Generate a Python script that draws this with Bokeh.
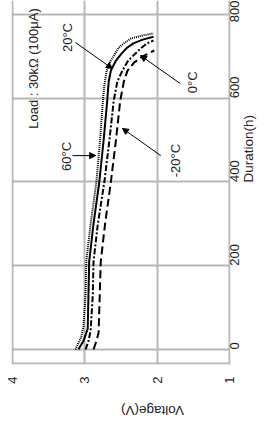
import math
from bokeh.plotting import figure
from bokeh.models import Range1d, FixedTicker, Span, Label, Arrow, NormalHead
from bokeh.embed import file_html
from bokeh.resources import INLINE

# ---- data ----
voltage_ticks = [1, 2, 3, 4]
duration_ticks = [0, 200, 400, 600, 800]

h_60 = [0, 15, 30, 55, 130, 210, 300, 400, 500, 595, 630, 665, 690, 707, 721, 731, 743, 750, 755]
v_60 = [3.13, 3.09, 3.05, 3.02, 2.99, 2.98, 2.92, 2.84, 2.79, 2.75, 2.73, 2.70, 2.64, 2.58, 2.53, 2.46, 2.36, 2.20, 2.05]

h_20 = [0, 20, 50, 130, 210, 300, 400, 500, 595, 640, 666, 690, 707, 720, 731, 740, 747]
v_20 = [3.09, 3.02, 2.96, 2.95, 2.94, 2.88, 2.80, 2.74, 2.69, 2.67, 2.64, 2.57, 2.49, 2.42, 2.33, 2.20, 2.05]

h_0 = [0, 20, 45, 130, 210, 300, 400, 500, 595, 640, 666, 690, 707, 720, 731, 738]
v_0 = [2.99, 2.95, 2.92, 2.89, 2.88, 2.82, 2.73, 2.66, 2.60, 2.55, 2.48, 2.40, 2.30, 2.22, 2.14, 2.05]

h_m20 = [0, 20, 40, 95, 210, 300, 400, 500, 595, 640, 666, 685, 700, 714]
v_m20 = [2.88, 2.84, 2.81, 2.80, 2.78, 2.72, 2.64, 2.57, 2.51, 2.46, 2.41, 2.32, 2.20, 2.04]

FONT = "Liberation Sans"
GRID = "#b8b8b8"
TXT = "#222222"

p = figure(width=269, height=428,
           x_range=Range1d(4.0138, 0.9862), y_range=Range1d(-35.8, 833.4),
           y_axis_location="right", x_axis_location="below",
           output_backend="svg", toolbar_location=None,
           min_border_left=11, min_border_top=0, min_border_right=39, min_border_bottom=64)
p.outline_line_color = None
p.background_fill_color = "white"
p.border_fill_color = "white"

for ax, ticks in ((p.xaxis, voltage_ticks), (p.yaxis, duration_ticks)):
    ax.ticker = FixedTicker(ticks=ticks)
    ax.axis_line_color = None
    ax.major_tick_line_color = None
    ax.minor_tick_line_color = None
    ax.major_tick_out = 0
    ax.major_tick_in = 0
    ax.minor_tick_out = 0
    ax.minor_tick_in = 0
    ax.major_label_orientation = math.pi / 2
    ax.major_label_text_font = FONT
    ax.major_label_text_font_size = "13px"
    ax.major_label_text_color = TXT
    ax.axis_label_text_font = FONT
    ax.axis_label_text_font_size = "13.5px"
    ax.axis_label_text_font_style = "normal"
    ax.axis_label_text_color = TXT

p.xaxis.axis_label = "Voltage(V)"
p.yaxis.axis_label = "Duration(h)"
p.xaxis.axis_label_orientation = math.pi
p.yaxis.axis_label_orientation = math.pi / 2
p.xaxis.major_label_standoff = 12
p.xaxis.axis_label_standoff = 24
p.yaxis.major_label_standoff = 4
p.yaxis.axis_label_standoff = 2

p.xgrid.ticker = FixedTicker(ticks=voltage_ticks)
p.ygrid.ticker = FixedTicker(ticks=duration_ticks)
for g in (p.xgrid, p.ygrid):
    g.grid_line_color = GRID
    g.grid_line_width = 2

p.add_layout(Span(location=-33.4, dimension="width", line_color=GRID, line_width=2))

p.line(v_60, h_60, line_color="black", line_width=2, line_dash="1 1")
p.line(v_20, h_20, line_color="black", line_width=2)
p.line(v_0, h_0, line_color="black", line_width=2, line_dash="6 2 2 2")
p.line(v_m20, h_m20, line_color="black", line_width=2, line_dash="8 4")

def arrow(x0, y0, x1, y1):
    p.add_layout(Arrow(end=NormalHead(size=6, fill_color="black", line_color="black", line_width=1),
                       x_start=x0, y_start=y0, x_end=x1, y_end=y1,
                       line_color="black", line_width=1))

arrow(3.13, 733, 2.62, 671)
arrow(3.17, 463, 2.85, 463)
arrow(1.68, 635, 2.23, 702)
arrow(1.95, 463, 2.48, 528)

def label(x, y, t):
    p.add_layout(Label(x=x, y=y, text=t, angle=math.pi / 2, text_align="center",
                       text_baseline="middle", text_font=FONT, text_font_size="13px",
                       text_color=TXT))

label(3.24, 745, "20°C")
label(3.25, 461, "60°C")
label(1.51, 638, "0°C")
label(1.75, 451, "-20°C")
label(3.71, 671, "Load : 30kΩ (100μA)")

open("out.html", "w").write(file_html(p, INLINE))
